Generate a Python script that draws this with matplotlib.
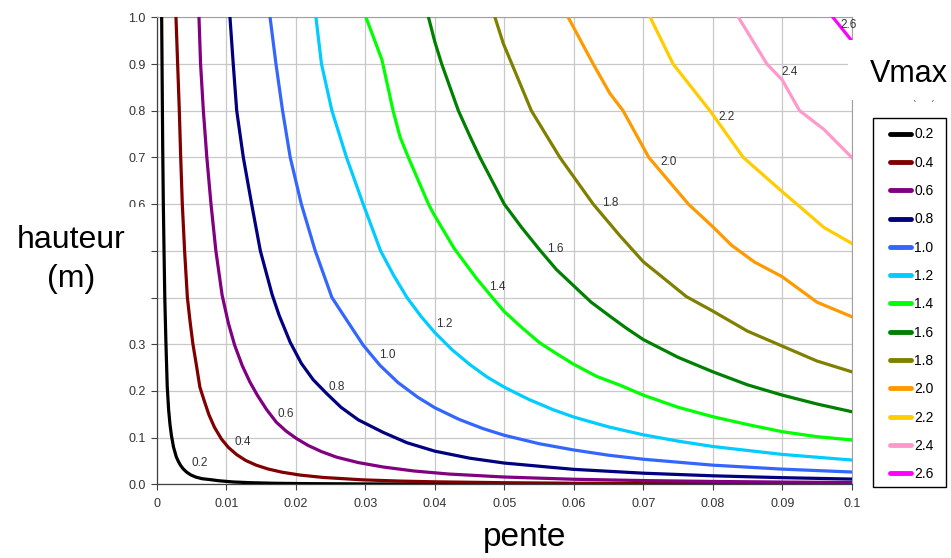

import matplotlib
matplotlib.use("Agg")
import matplotlib.pyplot as plt
from matplotlib.lines import Line2D
from matplotlib.patches import Rectangle

plt.rcParams["font.family"] = ["Liberation Sans", "DejaVu Sans"]

# ---- data (pente, hauteur) per Vmax level ----
s_v02 = [0.0007, 0.00078, 0.00085, 0.00094, 0.00104, 0.00115, 0.0013, 0.0015,
         0.0017, 0.0019, 0.0021, 0.0024, 0.0028, 0.0031, 0.0034, 0.0038, 0.0043,
         0.0049, 0.0056, 0.0065, 0.0077, 0.009, 0.011, 0.0134, 0.017, 0.022,
         0.03, 0.05, 0.1]
h_v02 = [1.0, 0.85, 0.72, 0.6, 0.5, 0.4, 0.31, 0.21,
         0.16, 0.128, 0.105, 0.08, 0.059, 0.049, 0.041, 0.033, 0.026,
         0.02, 0.0155, 0.012, 0.010, 0.0075, 0.005, 0.0035, 0.0022, 0.0014,
         0.0008, 0.0004, 0.0002]
s_v04 = [0.00276, 0.0030, 0.00324, 0.00344, 0.00367, 0.0040, 0.0044, 0.0048,
         0.0052, 0.0057, 0.0062, 0.0068, 0.0075, 0.0083, 0.0093, 0.0103, 0.0115,
         0.0128, 0.0143, 0.016, 0.018, 0.0206, 0.024, 0.0297, 0.035, 0.04, 0.05,
         0.06, 0.08, 0.1]
h_v04 = [1.0, 0.9, 0.8, 0.7, 0.6, 0.5, 0.4, 0.347,
         0.3, 0.255, 0.208, 0.18, 0.149, 0.122, 0.097, 0.079, 0.0635,
         0.051, 0.041, 0.0328, 0.026, 0.0198, 0.0146, 0.0095, 0.0069, 0.0053, 0.0034,
         0.0023, 0.0013, 0.00084]
s_v06 = [0.00607, 0.0063, 0.0067, 0.0072, 0.0078, 0.0085, 0.0094, 0.0103, 0.0112,
         0.0123, 0.0134, 0.0145, 0.0158, 0.0172, 0.0186, 0.0201, 0.0218, 0.0237,
         0.0259, 0.029, 0.0326, 0.037, 0.042, 0.05, 0.06, 0.07, 0.08, 0.09, 0.1]
h_v06 = [1.0, 0.9, 0.8, 0.7, 0.6, 0.5, 0.405, 0.345, 0.298,
         0.254, 0.219, 0.19, 0.16, 0.133, 0.114, 0.098, 0.083, 0.070,
         0.058, 0.0465, 0.037, 0.0285, 0.022, 0.0156, 0.0108, 0.008, 0.0061, 0.0048,
         0.0039]
s_v08 = [0.01053, 0.0110, 0.0115, 0.01245, 0.01365, 0.0149, 0.0166, 0.0176, 0.0192,
         0.0208, 0.0225, 0.0244, 0.0265, 0.029, 0.0326, 0.036, 0.04, 0.045, 0.05,
         0.06, 0.07, 0.08, 0.09, 0.1]
h_v08 = [1.0, 0.9, 0.8, 0.7, 0.6, 0.5, 0.406, 0.362, 0.304,
         0.259, 0.224, 0.195, 0.165, 0.138, 0.111, 0.089, 0.071, 0.056, 0.0455,
         0.032, 0.0238, 0.0182, 0.0142, 0.0112]
s_v10 = [0.0163, 0.01715, 0.0181, 0.0192, 0.0208, 0.0228, 0.0252, 0.0274, 0.0297,
         0.0321, 0.0347, 0.0375, 0.04, 0.0435, 0.047, 0.05, 0.055, 0.06, 0.065,
         0.07, 0.08, 0.09, 0.1]
h_v10 = [1.0, 0.9, 0.8, 0.7, 0.6, 0.5, 0.4, 0.35, 0.298,
         0.255, 0.218, 0.187, 0.164, 0.139, 0.119, 0.105, 0.087, 0.0735, 0.0623,
         0.0537, 0.041, 0.0325, 0.0263]
s_v12 = [0.0229, 0.0237, 0.0252, 0.0273, 0.0297, 0.0322, 0.0341, 0.036, 0.038,
         0.040, 0.0425, 0.045, 0.0475, 0.05, 0.0535, 0.057, 0.06, 0.065, 0.07,
         0.075, 0.08, 0.09, 0.1]
h_v12 = [1.0, 0.9, 0.8, 0.7, 0.6, 0.5, 0.447, 0.40, 0.36,
         0.325, 0.288, 0.257, 0.23, 0.208, 0.182, 0.16, 0.144, 0.123, 0.106,
         0.0925, 0.081, 0.064, 0.052]
s_v14 = [0.0301, 0.0324, 0.034, 0.035, 0.0362, 0.0391, 0.0398, 0.0428, 0.046,
         0.0484, 0.05, 0.0525, 0.0551, 0.0575, 0.06, 0.0633, 0.0666, 0.07, 0.075,
         0.08, 0.085, 0.09, 0.095, 0.1]
h_v14 = [1.0, 0.909, 0.8, 0.744, 0.7, 0.6, 0.58, 0.505, 0.441,
         0.398, 0.37, 0.336, 0.303, 0.28, 0.257, 0.231, 0.2126, 0.191, 0.165,
         0.1448, 0.128, 0.1127, 0.102, 0.0949]
s_v16 = [0.0391, 0.040, 0.041, 0.0434, 0.0451, 0.0465, 0.050, 0.0525, 0.0551,
         0.0575, 0.06, 0.0625, 0.0652, 0.0675, 0.07, 0.075, 0.08, 0.085, 0.09,
         0.095, 0.1]
h_v16 = [1.0, 0.948, 0.9, 0.8, 0.744, 0.7, 0.6, 0.55, 0.502,
         0.46, 0.425, 0.39, 0.36, 0.335, 0.31, 0.272, 0.241, 0.213, 0.191,
         0.172, 0.1555]
s_v18 = [0.04866, 0.04986, 0.0511, 0.0539, 0.058, 0.0628, 0.0666, 0.07, 0.0733,
         0.0762, 0.08, 0.085, 0.09, 0.095, 0.1]
h_v18 = [1.0, 0.944, 0.9, 0.8, 0.7, 0.6, 0.533, 0.4767, 0.437,
         0.402, 0.371, 0.328, 0.296, 0.264, 0.241]
s_v20 = [0.0592, 0.0628, 0.0652, 0.0671, 0.0708, 0.0765, 0.08, 0.0827, 0.086,
         0.09, 0.095, 0.1]
h_v20 = [1.0, 0.9, 0.837, 0.8, 0.7, 0.6, 0.5516, 0.512, 0.476,
         0.4445, 0.39, 0.359]
s_v22 = [0.071, 0.0743, 0.0796, 0.0844, 0.09, 0.0921, 0.096, 0.1]
h_v22 = [1.0, 0.9, 0.8, 0.7, 0.6266, 0.6, 0.55, 0.516]
s_v24 = [0.0837, 0.0878, 0.09, 0.0925, 0.096, 0.1]
h_v24 = [1.0, 0.9, 0.866, 0.8, 0.76, 0.7]
s_v26 = [0.0973, 0.1]
h_v26 = [1.0, 0.95]

levels = ["0.2", "0.4", "0.6", "0.8", "1.0", "1.2", "1.4", "1.6", "1.8",
          "2.0", "2.2", "2.4", "2.6"]
colors = ["#000000", "#800000", "#800080", "#000080", "#3366ff", "#00ccff",
          "#00ff00", "#008000", "#808000", "#ff9900", "#ffcc00", "#ff99cc",
          "#ff00ff"]
curve_s = [s_v02, s_v04, s_v06, s_v08, s_v10, s_v12, s_v14, s_v16, s_v18,
           s_v20, s_v22, s_v24, s_v26]
curve_h = [h_v02, h_v04, h_v06, h_v08, h_v10, h_v12, h_v14, h_v16, h_v18,
           h_v20, h_v22, h_v24, h_v26]

# in-plot level labels (pente, hauteur)
lab_s = [0.0062, 0.0124, 0.0186, 0.0259, 0.0331, 0.0413, 0.049, 0.0574, 0.0652,
         0.0736, 0.082, 0.0911, 0.0995]
lab_h = [0.045, 0.09, 0.15, 0.209, 0.277, 0.343, 0.423, 0.504, 0.602,
         0.691, 0.787, 0.8836, 0.9835]

xticks = [0, 0.01, 0.02, 0.03, 0.04, 0.05, 0.06, 0.07, 0.08, 0.09, 0.1]
xtick_labels = ["0", "0.01", "0.02", "0.03", "0.04", "0.05", "0.06", "0.07",
                "0.08", "0.09", "0.1"]
yticks = [0.0, 0.1, 0.2, 0.3, 0.4, 0.5, 0.6, 0.7, 0.8, 0.9, 1.0]

W, H = 951, 558
TXT = "#333333"

fig = plt.figure(figsize=(W / 100, H / 100), dpi=100)
ax = fig.add_axes([156.8 / W, 1 - 484.3 / H, 694.9 / W, 467 / H])

for s, h, col in zip(curve_s, curve_h, colors):
    ax.plot(s, h, color=col, lw=2.3, solid_joinstyle="round", zorder=3)
for s, h, t in zip(lab_s, lab_h, levels):
    ax.text(s, h, t, fontsize=8.5, color=TXT, ha="center", va="center", zorder=4)

ax.set_xlim(0, 0.1)
ax.set_ylim(0, 1)
ax.set_xticks(xticks)
ax.set_xticklabels(xtick_labels)
ax.set_yticks(yticks)
ax.set_yticklabels([f"{v:.1f}" for v in yticks])
ax.grid(True, color="#c8c8c8", lw=0.9)
ax.set_axisbelow(True)
ax.tick_params(labelsize=9, labelcolor=TXT, color="#404040", length=4, width=0.8)
ax.tick_params(axis="x", pad=6)
ax.tick_params(axis="y", pad=4)
for sp in ("top", "right"):
    ax.spines[sp].set_color("#a0a0a0")
    ax.spines[sp].set_linewidth(0.8)
for sp in ("left", "bottom"):
    ax.spines[sp].set_color("#404040")
    ax.spines[sp].set_linewidth(0.9)

# legend: frame drawn separately so the side padding can be wider than the top
fig.add_artist(Rectangle((873 / W, 1 - 487 / H), 73 / W, 369 / H,
                         transform=fig.transFigure, facecolor="white",
                         edgecolor="black", lw=1, zorder=4))
handles = [Line2D([], [], color=c, lw=3.5, solid_capstyle="round") for c in colors]
leg = fig.legend(handles, levels, loc="upper left",
                 bbox_to_anchor=(890 / W, 1 - 127.5 / H), borderaxespad=0,
                 frameon=False, fontsize=10, handlelength=1.5, handletextpad=0.23,
                 labelspacing=1.03, borderpad=0)
leg.set_zorder(5)
fig.text(910 / W, 1 - 97 / H, "Vmax (m/s)", fontsize=7, color="#555555",
         ha="center", va="center", zorder=2)

# white label boxes lying over the chart
fig.add_artist(Rectangle((848 / W, 1 - 100 / H), 103 / W, 60 / H,
                         transform=fig.transFigure, facecolor="white",
                         edgecolor="none", zorder=6))
fig.add_artist(Rectangle((0, 1 - 310 / H), 145 / W, 103 / H,
                         transform=fig.transFigure, facecolor="white",
                         edgecolor="none", zorder=6))

big = dict(color="black", ha="center", va="baseline", zorder=7)
fig.text(909 / W, 1 - 82 / H, "Vmax", fontsize=22, **big)
fig.text(71 / W, 1 - 248 / H, "hauteur", fontsize=23, **big)
fig.text(71 / W, 1 - 287 / H, "(m)", fontsize=23, **big)
fig.text(525 / W, 1 - 546 / H, "pente", fontsize=24, **big)

fig.savefig("out.png", dpi=100)
